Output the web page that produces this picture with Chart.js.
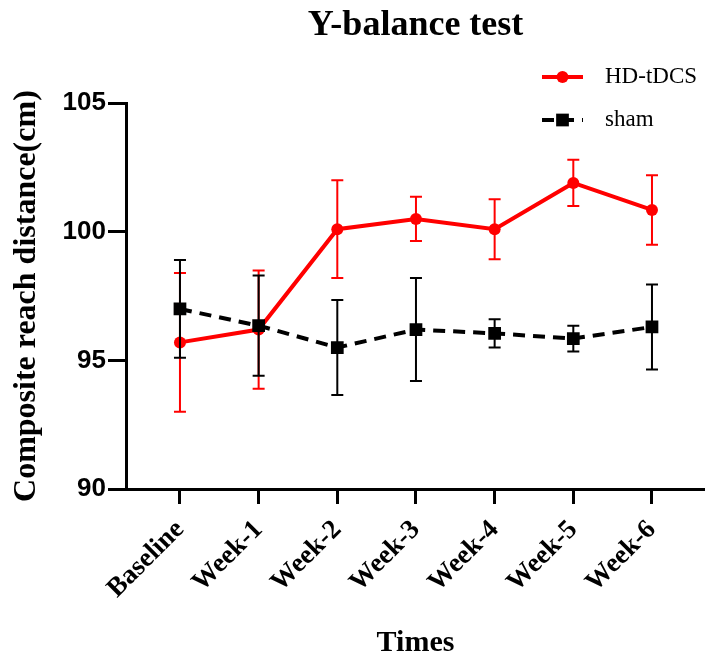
<!DOCTYPE html>
<html>
<head>
<meta charset="utf-8">
<title>Y-balance test</title>
<script src="https://cdn.jsdelivr.net/npm/chart.js@4.4.1/dist/chart.umd.min.js"></script>
<style>
  html, body { margin: 0; padding: 0; background: #fff; overflow: hidden; }
  canvas { display: block; }
</style>
</head>
<body>
<!-- canvas is a little wider than the window: Chart.js keeps ~9px free for the point markers
     on the right, and the x axis of the original runs to the edge -->
<canvas id="balanceChart" width="714" height="658"></canvas>
<script>
const timePoints = ['Baseline', 'Week-1', 'Week-2', 'Week-3', 'Week-4', 'Week-5', 'Week-6'];

const hdMean = [95.7, 96.2, 100.1, 100.5, 100.1, 101.9, 100.85];
const hdErr = [2.7, 2.3, 1.9, 0.86, 1.17, 0.9, 1.35];

const shamMean = [97.0, 96.35, 95.5, 96.2, 96.05, 95.85, 96.3];
const shamErr = [1.9, 1.95, 1.85, 2.0, 0.55, 0.5, 1.65];

const serif = "'Liberation Serif', 'Times New Roman', serif";
const sans = "'Liberation Sans', Arial, sans-serif";

// error bars drawn just before each dataset so they sit under its line
const errorBars = {
    id: 'errorBars',
    beforeDatasetDraw(chart, args) {
        const ds = chart.data.datasets[args.index];
        if (!ds.errors) return;
        const yScale = chart.scales.y;
        const ctx = chart.ctx;
        ctx.save();
        ctx.strokeStyle = ds.borderColor;
        ctx.lineWidth = 2;
        ctx.setLineDash([]);
        args.meta.data.forEach((pt, i) => {
            const v = ds.data[i].y;
            const top = yScale.getPixelForValue(v + ds.errors[i]);
            const bottom = yScale.getPixelForValue(v - ds.errors[i]);
            ctx.beginPath();
            ctx.moveTo(pt.x, top);
            ctx.lineTo(pt.x, bottom);
            ctx.moveTo(pt.x - 6, top);
            ctx.lineTo(pt.x + 6, top);
            ctx.moveTo(pt.x - 6, bottom);
            ctx.lineTo(pt.x + 6, bottom);
            ctx.stroke();
        });
        ctx.restore();
    }
};

// legend in the top right corner, stacked
const cornerLegend = {
    id: 'cornerLegend',
    afterDraw(chart) {
        const ctx = chart.ctx;
        const x0 = 542, x1 = 583, textX = 605;
        const rows = [77, 120];
        chart.data.datasets.forEach((ds, i) => {
            const y = rows[i];
            ctx.save();
            ctx.strokeStyle = ds.borderColor;
            ctx.fillStyle = ds.borderColor;
            ctx.lineWidth = ds.borderWidth;
            ctx.setLineDash(ds.borderDash || []);
            ctx.beginPath();
            ctx.moveTo(x0, y);
            ctx.lineTo(x1, y);
            ctx.stroke();
            ctx.setLineDash([]);
            const cx = (x0 + x1) / 2;
            ctx.beginPath();
            if (ds.pointStyle === 'rect') {
                const s = ds.pointRadius * Math.SQRT1_2;
                ctx.rect(cx - s, y - s, 2 * s, 2 * s);
            } else {
                ctx.arc(cx, y, ds.pointRadius, 0, Math.PI * 2);
            }
            ctx.fill();
            ctx.fillStyle = '#000';
            ctx.font = '23px ' + serif;
            ctx.textBaseline = 'middle';
            ctx.textAlign = 'left';
            ctx.fillText(ds.label, textX, y);
            ctx.restore();
        });
    }
};

const ctx = document.getElementById('balanceChart').getContext('2d');

new Chart(ctx, {
    type: 'line',
    data: {
        datasets: [{
            label: 'HD-tDCS',
            data: hdMean.map((v, i) => ({ x: i, y: v })),
            errors: hdErr,
            borderColor: '#ff0000',
            backgroundColor: '#ff0000',
            borderWidth: 4,
            pointStyle: 'circle',
            pointRadius: 6,
            pointBorderWidth: 0,
            pointBackgroundColor: '#ff0000',
            order: 1
        }, {
            label: 'sham',
            data: shamMean.map((v, i) => ({ x: i, y: v })),
            errors: shamErr,
            borderColor: '#000000',
            backgroundColor: '#000000',
            borderWidth: 4,
            borderDash: [12, 8],
            pointStyle: 'rect',
            pointRadius: 9,
            pointBorderWidth: 0,
            pointBackgroundColor: '#000000',
            order: 0
        }]
    },
    options: {
        responsive: false,
        animation: false,
        layout: { padding: 0 },
        plugins: {
            legend: { display: false },
            tooltip: { enabled: false },
            title: {
                display: true,
                text: 'Y-balance test',
                fullSize: false,
                color: '#000',
                font: { family: serif, size: 36, weight: 'bold' },
                padding: { top: 4, bottom: 56 }
            }
        },
        scales: {
            x: {
                type: 'linear',
                min: -0.686,
                max: 6.674,
                afterBuildTicks: (scale) => {
                    scale.ticks = timePoints.map((_, i) => ({ value: i }));
                },
                afterFit: (scale) => {
                    scale.height = 169;
                    scale.paddingLeft = 0;
                    scale.paddingRight = 0;
                },
                grid: { drawOnChartArea: false, drawTicks: true, tickLength: 15, tickWidth: 3, tickColor: '#000' },
                border: { display: true, color: '#000', width: 3 },
                ticks: {
                    autoSkip: false,
                    minRotation: 45,
                    maxRotation: 45,
                    padding: 10,
                    color: '#000',
                    font: { family: serif, size: 27, weight: 'bold' },
                    callback: (v) => timePoints[v]
                },
                title: {
                    display: true,
                    text: 'Times',
                    color: '#000',
                    font: { family: serif, size: 30, weight: 'bold' },
                    padding: { top: 0, bottom: -3 }
                }
            },
            y: {
                min: 90,
                max: 105,
                afterFit: (scale) => { scale.width = 126; },
                grid: { drawOnChartArea: false, drawTicks: true, tickLength: 18, tickWidth: 3, tickColor: '#000' },
                border: { display: true, color: '#000', width: 3 },
                ticks: {
                    stepSize: 5,
                    padding: 2,
                    color: '#000',
                    font: { family: sans, size: 26, weight: 'bold' }
                },
                title: {
                    display: true,
                    text: 'Composite reach distance(cm)',
                    color: '#000',
                    font: { family: serif, size: 32, weight: 'bold' },
                    padding: { top: 8, bottom: 0 }
                }
            }
        }
    },
    plugins: [errorBars, cornerLegend]
});
</script>
</body>
</html>
